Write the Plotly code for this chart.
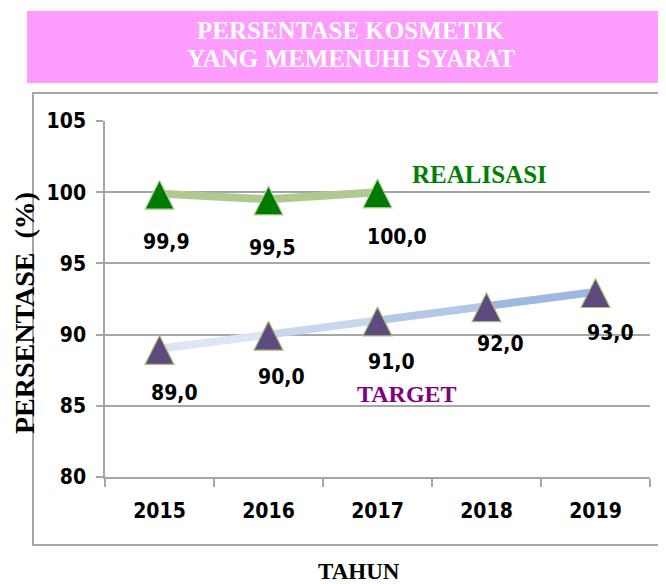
import plotly.graph_objects as go

# ---------------- data ----------------
years = ["2015", "2016", "2017", "2018", "2019"]
realisasi_years = ["2015", "2016", "2017"]
realisasi = [99.9, 99.5, 100.0]
target = [89.0, 90.0, 91.0, 92.0, 93.0]
realisasi_labels = ["99,9", "99,5", "100,0"]
target_labels = ["89,0", "90,0", "91,0", "92,0", "93,0"]
y_ticks = [80, 85, 90, 95, 100, 105]
title_lines = ["PERSENTASE KOSMETIK", "YANG MEMENUHI SYARAT"]

# ---------------- layout geometry (screen pixels) ----------------
OFF = 8                      # default page margin around the plot div
W, H = 666 - OFF, 584 - OFF
L, R, T, B = 105, 650, 121, 477   # plot area in screen pixels
Y_RANGE = [80, 105]
PPU = (B - T) / (Y_RANGE[1] - Y_RANGE[0])

# label offsets (pixels) relative to each point, as placed in the original
real_label_dx = [7, 4, 19]
real_label_dy = [-48, -49, -45]
targ_label_dx = [15, 13, 14, 14, 15]
targ_label_dy = [-44, -42, -42, -38, -41]


def px(x):
    return (x - L) / (R - L)


def py(y):
    return (B - y) / (B - T)


NARROW = "Liberation Sans Narrow, Arial Narrow, DejaVu Sans Condensed, sans-serif"
SERIF = "Liberation Serif, Times New Roman, serif"
GRID = "#A6A6A6"

MARKER_SIZE = 29
TIP = 13.4 / PPU  # marker tip sits above the data point

fig = go.Figure()

# realisasi line
fig.add_trace(go.Scatter(
    x=realisasi_years, y=realisasi, mode="lines",
    line=dict(color="#B0C98F", width=8), hoverinfo="skip", showlegend=False))

# target line (light-to-darker blue gradient, segment by segment)
seg_colors = ["#DCE6F4", "#C8D7EE", "#B3C7E7", "#9FB8E0"]
for i in range(len(years) - 1):
    fig.add_trace(go.Scatter(
        x=years[i:i + 2], y=target[i:i + 2], mode="lines",
        line=dict(color=seg_colors[i], width=8), hoverinfo="skip",
        showlegend=False))

# markers (on overlay axis so the triangle tip sits just above the point)
fig.add_trace(go.Scatter(
    x=realisasi_years, y=realisasi, mode="markers", yaxis="y2",
    marker=dict(symbol="arrow-up", size=MARKER_SIZE, color="#007A00",
                line=dict(color="#B9D39A", width=1.2)),
    showlegend=False))
fig.add_trace(go.Scatter(
    x=years, y=target, mode="markers", yaxis="y2",
    marker=dict(symbol="arrow-up", size=MARKER_SIZE, color="#5E4A7E",
                line=dict(color="#A8BF7A", width=1.2)),
    showlegend=False))

annotations = []
label_font = dict(family=NARROW, size=21, color="black", weight="bold")
for xv, yv, t, dx, dy in zip(realisasi_years, realisasi, realisasi_labels,
                             real_label_dx, real_label_dy):
    annotations.append(dict(x=years.index(xv), y=yv, xref="x", yref="y",
                            text=t, showarrow=False, xshift=dx, yshift=dy,
                            xanchor="center", yanchor="middle",
                            font=label_font))
for xv, yv, t, dx, dy in zip(years, target, target_labels,
                             targ_label_dx, targ_label_dy):
    annotations.append(dict(x=years.index(xv), y=yv, xref="x", yref="y",
                            text=t, showarrow=False, xshift=dx, yshift=dy,
                            xanchor="center", yanchor="middle",
                            font=label_font))


def note(x, y, text, font, angle=0):
    annotations.append(dict(x=px(x), y=py(y), xref="paper", yref="paper",
                            text=text, showarrow=False, textangle=angle,
                            xanchor="center", yanchor="middle", font=font))


# series names
note(479, 174, "REALISASI",
     dict(family=SERIF, size=25, color="#008000", weight="bold"))
note(407, 394, "TARGET",
     dict(family=SERIF, size=24, color="#800080", weight="bold"))

# title
for line, yc in zip(title_lines, [31, 58]):
    note(351, yc, line, dict(family=SERIF, size=25, color="white",
                             weight="bold"))

# axis titles
note(24, 313, "PERSENTASE\u00a0\u00a0(%)",
     dict(family=SERIF, size=28, color="black", weight="bold"), angle=-90)
note(359, 571, "TAHUN",
     dict(family=SERIF, size=23, color="black", weight="bold"))

shapes = [
    # pink header band
    dict(type="rect", xref="paper", yref="paper",
         x0=px(27), x1=px(690), y0=py(83), y1=py(11),
         fillcolor="#FF9CFF", line=dict(width=0), layer="below"),
    # outer frame
    dict(type="rect", xref="paper", yref="paper",
         x0=px(33), x1=px(700), y0=py(545), y1=py(93),
         fillcolor="rgba(0,0,0,0)", line=dict(color="#A6A6A6", width=2),
         layer="below"),
]

fig.update_layout(
    width=W, height=H,
    margin=dict(l=L - OFF, r=W - (R - OFF), t=T - OFF, b=H - (B - OFF),
                pad=0),
    paper_bgcolor="white", plot_bgcolor="white",
    showlegend=False,
    annotations=annotations, shapes=shapes,
    xaxis=dict(type="category", categoryorder="array", categoryarray=years,
               range=[-0.5, len(years) - 0.5],
               showgrid=False, showline=True, linecolor=GRID, linewidth=1.5,
               ticks="outside", tickson="boundaries", ticklen=8,
               tickcolor=GRID, tickwidth=1.5,
               tickfont=dict(family=NARROW, size=21, color="black",
                             weight="bold"),
               ticklabelstandoff=14),
    yaxis=dict(range=Y_RANGE, tickvals=y_ticks, showgrid=True,
               gridcolor=GRID, gridwidth=1.5, zeroline=False,
               showline=True, linecolor=GRID, linewidth=1.5,
               ticks="outside", ticklen=7, tickcolor=GRID, tickwidth=1.5,
               tickfont=dict(family=NARROW, size=21, color="black",
                             weight="bold"),
               ticklabelstandoff=6),
    yaxis2=dict(range=[Y_RANGE[0] - TIP, Y_RANGE[1] - TIP], overlaying="y",
                visible=False),
)

fig.write_html("out.html")
